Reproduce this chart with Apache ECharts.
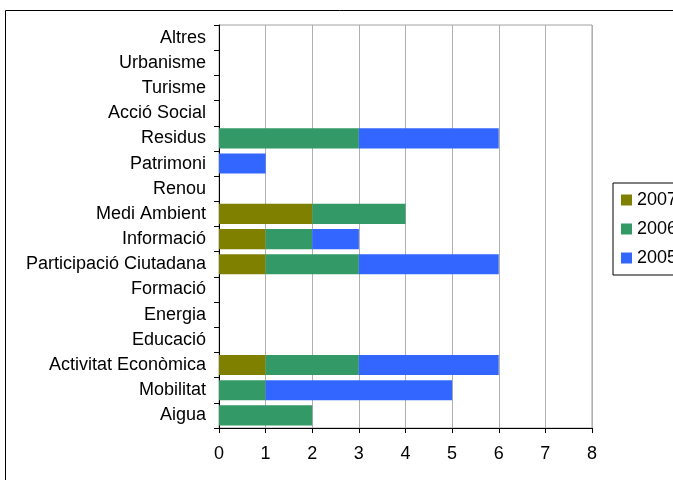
<!DOCTYPE html>
<html><head><meta charset="utf-8">
<script src="https://cdn.jsdelivr.net/npm/echarts@6/dist/echarts.min.js"></script>
<style>html,body{margin:0;padding:0;background:#fff}#c{width:673px;height:480px}</style>
</head><body><div id="c"></div>
<script>
var categories = ['Aigua','Mobilitat','Activitat Econòmica','Educació','Energia','Formació','Participació Ciutadana','Informació','Medi Ambient','Renou','Patrimoni','Residus','Acció Social','Turisme','Urbanisme','Altres'];
var v2007 = [0,0,1,0,0,0,1,1,2,0,0,0,0,0,0,0];
var v2006 = [2,1,2,0,0,0,2,1,2,0,0,3,0,0,0,0];
var v2005 = [0,4,3,0,0,0,3,1,0,0,1,3,0,0,0,0];
var xTicks = [0,1,2,3,4,5,6,7,8];

var chart = echarts.init(document.getElementById('c'), null, {renderer:'canvas'});
var font = 'Liberation Sans, Arial, sans-serif';
function s(name, data, color){
  return {name:name, type:'bar', stack:'t', data:data, barCategoryGap:'20%',
    itemStyle:{color:color}, emphasis:{disabled:true}};
}
chart.setOption({
  animation:false,
  textStyle:{fontFamily:font},
  graphic:[{type:'rect', shape:{x:5.5,y:10.5,width:720,height:520}, style:{fill:'none',stroke:'#000',lineWidth:1}, z:-1}],
  grid:{left:219, right:81, top:25, bottom:52, show:true, borderColor:'#a0a0a0', borderWidth:1},
  legend:{orient:'vertical', left:613, top:183, data:['2007','2006','2005'],
    icon:'rect', itemWidth:11, itemHeight:11, itemGap:11, padding:[8,8,8,8], itemTextGap:4,
    borderColor:'#000', borderWidth:1, textStyle:{fontSize:18, color:'#000', fontFamily:font}},
  xAxis:{type:'value', min:0, max:8, interval:1,
    axisLine:{show:true, lineStyle:{color:'#000'}},
    axisTick:{show:true, length:5, lineStyle:{color:'#000'}},
    axisLabel:{fontSize:18, color:'#000', margin:17, fontFamily:font, formatter:function(v){return xTicks.indexOf(v)>=0?String(v):'';}},
    splitLine:{show:true, lineStyle:{color:'#b0b0b0'}}},
  yAxis:{type:'category', data:categories,
    axisLine:{show:true, lineStyle:{color:'#000'}},
    axisTick:{show:true, length:5, lineStyle:{color:'#000'}},
    axisLabel:{fontSize:18, color:'#000', margin:13, fontFamily:font},
    splitLine:{show:false}},
  series:[s('2007',v2007,'#808000'), s('2006',v2006,'#339966'), s('2005',v2005,'#3366FF')]
});
</script></body></html>
